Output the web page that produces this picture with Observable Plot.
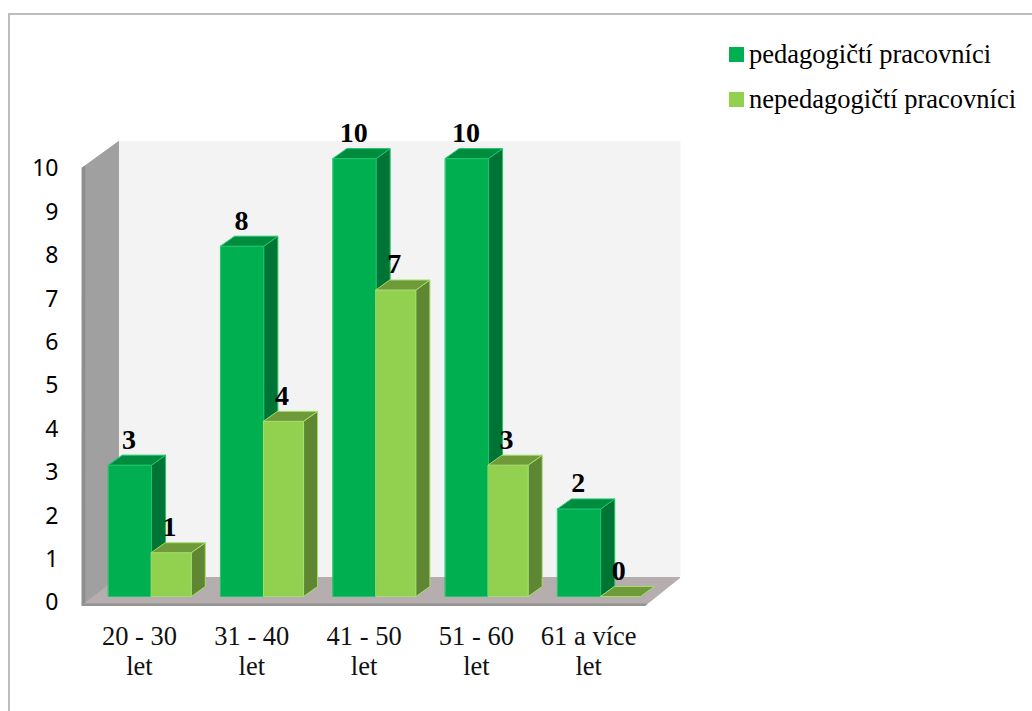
<!DOCTYPE html>
<html>
<head>
<meta charset="utf-8">
<script src="https://cdn.jsdelivr.net/npm/d3@7"></script>
<script src="https://cdn.jsdelivr.net/npm/@observablehq/plot@0.6"></script>
<style>
html,body{margin:0;padding:0;background:#fff;overflow:hidden;width:1032px;height:711px}
#wrap{position:relative;width:1032px;height:711px;overflow:hidden}
#frame{position:absolute;left:8px;top:13px;width:1100px;height:800px;border:2px solid #bdbdbd;box-sizing:border-box}
#chart{position:absolute;left:0;top:0}
#legend{position:absolute;left:729px;top:0;font-family:"Liberation Serif",serif;font-size:26.5px;color:#000}
.item{position:absolute;left:0;white-space:nowrap;display:flex;align-items:center;height:30px}
.sw{width:15px;height:15px;margin-right:5px;display:inline-block}
</style>
</head>
<body>
<div id="wrap">
<div id="frame"></div>
<div id="chart"></div>
<div id="legend"></div>
</div>
<script>
const categories = ["20 - 30\nlet", "31 - 40\nlet", "41 - 50\nlet", "51 - 60\nlet", "61 a více\nlet"];
const seriesNames = ["pedagogičtí pracovníci", "nepedagogičtí pracovníci"];
const pedagogicti = [3, 8, 10, 10, 2];
const nepedagogicti = [1, 4, 7, 3, 0];
const yTicks = [0, 1, 2, 3, 4, 5, 6, 7, 8, 9, 10];
const palette = {
  green: {front: "#00b050", side: "#007434", top: "#008c3f", edge: "#1fc56c"},
  light: {front: "#92d050", side: "#5f8632", top: "#6f9a3a", edge: "#a6de6c"}
};

// Scene depth, in scale units
const depthX = 0.125, depthY = 0.23;
const level = v => 0.138 + 1.009 * v;   // bars stand further back than the axis plane
const barGreen = 0.383, barEnd = 0.737;

const faces = [];
function face(id, fill, stroke, pts) {
  pts.forEach(([x, y]) => faces.push({id, fill, stroke, x, y}));
}
// walls and floor
const wallL = -0.231, wallBack = 0.089, wallR = 5.089, floorFrontR = 4.778;
const wallBottomFront = -0.069, wallBottomBack = 0.576, wallTopFront = 10.02, wallTopBack = 10.62;
face("back", "#f3f3f3", "#f3f3f3", [[wallBack, wallBottomBack], [wallR, wallBottomBack], [wallR, wallTopBack], [wallBack, wallTopBack]]);
face("left", "#a0a0a0", "#a0a0a0", [[wallL, wallBottomFront], [wallBack, wallBottomBack], [wallBack, wallTopBack], [wallL, wallTopFront]]);
face("leftEdge", "#8c8c8c", "#8c8c8c", [[wallL, wallBottomFront], [wallL + 0.02, wallBottomFront], [wallL + 0.02, wallTopFront + 0.03], [wallL, wallTopFront]]);
face("floor", "#b6aeae", "#b6aeae", [[wallL, wallBottomFront], [floorFrontR, wallBottomFront], [wallR, wallBottomBack], [wallBack, wallBottomBack]]);
face("floorEdge", "#939393", "#939393", [[wallL, wallBottomFront], [floorFrontR, wallBottomFront], [floorFrontR + 0.012, wallBottomFront + 0.035], [wallL, wallBottomFront + 0.035]]);

function bar(id, x0, x1, v, c) {
  const b = level(0), t = level(v);
  if (v > 0) {
    face(id + "s", c.side, c.edge, [[x1, b], [x1 + depthX, b + depthY], [x1 + depthX, t + depthY], [x1, t]]);
    face(id + "f", c.front, c.edge, [[x0, b], [x1, b], [x1, t], [x0, t]]);
  }
  face(id + "t", c.top, c.edge, [[x0, t], [x1, t], [x1 + depthX, t + depthY], [x0 + depthX, t + depthY]]);
}
categories.forEach((_, i) => {
  bar("g" + i, i, i + barGreen, pedagogicti[i], palette.green);
  bar("l" + i, i + barGreen, i + barEnd, nepedagogicti[i], palette.light);
});

const labels = [
  ...pedagogicti.map((v, i) => ({x: i + barGreen / 2 - 0.008, y: level(v), v})),
  ...nepedagogicti.map((v, i) => ({x: i + (barGreen + barEnd) / 2 - 0.016, y: level(v), v}))
];

const plot = Plot.plot({
  width: 1032,
  height: 711,
  marginLeft: 63,
  marginBottom: 94,
  marginTop: 0,
  marginRight: 0,
  style: {background: "transparent"},
  x: {type: "linear", domain: [0, 1], range: [108, 220.3], axis: null},
  y: {type: "linear", domain: [0, 10], range: [602, 168], axis: null},
  marks: [
    Plot.line(faces, {x: "x", y: "y", z: "id", fill: "fill", stroke: "stroke", strokeWidth: 1, curve: "linear-closed"}),
    Plot.axisY(yTicks, {anchor: "left", tickSize: 0, tickPadding: 5, dy: 0.5, fontSize: 23, fontFamily: "Noto Sans, Open Sans, sans-serif", fill: "#000", label: null}),
    Plot.axisX(d3.range(categories.length), {
      anchor: "bottom", tickSize: 0, tickPadding: 6, dx: 31, fontSize: 26.5, lineHeight: 1.13,
      fontFamily: "Liberation Serif, serif", fill: "#111", label: null,
      tickFormat: i => categories[i]
    }),
    Plot.text(labels, {x: "x", y: "y", text: d => String(d.v), dy: -25.5, fontSize: 28, fontWeight: "bold", fontFamily: "Liberation Serif, serif", fill: "#000"})
  ]
});
document.getElementById("chart").appendChild(plot);

const legend = document.getElementById("legend");
[[seriesNames[0], palette.green.front, 39], [seriesNames[1], palette.light.front, 84]].forEach(([name, color, top]) => {
  const it = document.createElement("div");
  it.className = "item";
  it.style.top = top + "px";
  it.innerHTML = `<span class="sw" style="background:${color}"></span><span>${name}</span>`;
  legend.appendChild(it);
});
</script>
</body>
</html>
